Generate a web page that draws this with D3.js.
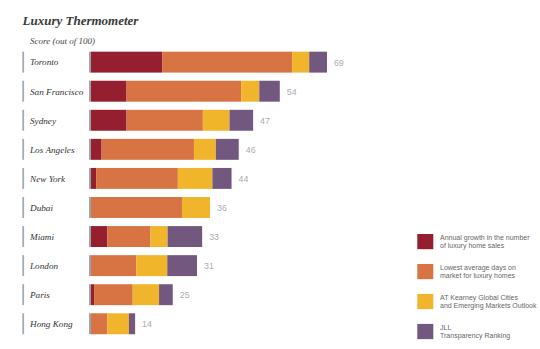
<!DOCTYPE html>
<html><head><meta charset="utf-8">
<script src="https://cdn.jsdelivr.net/npm/d3@7"></script>
<style>body{margin:0;background:#fff}svg{display:block}</style>
</head><body>
<script>
const cities = ["Toronto","San Francisco","Sydney","Los Angeles","New York","Dubai","Miami","London","Paris","Hong Kong"];
const totals = [69,54,47,46,44,36,33,31,25,14];
const salesGrowth = [20.8,10.4,10.4,3.1,1.5,0,4.8,0,0.9,0];
const daysOnMarket = [38.0,33.5,22.3,27.0,23.9,26.6,12.6,13.2,11.3,4.8];
const kearney = [5.0,5.3,7.8,6.4,10.1,8.2,5.0,9.1,7.7,6.3];
const jll = [5.2,6.0,6.9,6.7,5.6,0,10.1,8.7,4.0,1.8];
const seriesNames = [
  ["Annual growth in the number","of luxury home sales"],
  ["Lowest average days on","market for luxury homes"],
  ["AT Kearney Global Cities","and Emerging Markets Outlook"],
  ["JLL","Transparency Ranking"]
];
const colors = ["#951f2f","#d87444","#f0b52a","#72577f"];
const title = "Luxury Thermometer";
const subtitle = "Score (out of 100)";

const W=540,H=349;
const svg=d3.select("body").append("svg").attr("width",W).attr("height",H);

const x=d3.scaleLinear().domain([0,100]).range([91,91+342]);
const y=d3.scaleBand().domain(cities).range([47.6,338.3]).paddingInner(0.28).paddingOuter(0.14);

svg.append("text").attr("x",22.5).attr("y",24.5).text(title)
  .attr("font-family","Liberation Serif").attr("font-style","italic").attr("font-weight","bold")
  .attr("font-size",13).attr("fill","#3a3a3a");
svg.append("text").attr("x",30).attr("y",43.5).text(subtitle)
  .attr("font-family","Liberation Serif").attr("font-style","italic")
  .attr("font-size",9).attr("fill","#444");

const data=cities.map((c,i)=>({city:c,total:totals[i],vals:[salesGrowth[i],daysOnMarket[i],kearney[i],jll[i]]}));
const stack=d3.stack().keys([0,1,2,3]).value((d,k)=>d.vals[k]);
const series=stack(data);

const rows=svg.append("g");
rows.selectAll("rect.mark").data(data).join("rect").attr("class","mark")
  .attr("x",22.3).attr("width",1.8).attr("y",d=>y(d.city)).attr("height",y.bandwidth()).attr("fill","#a4abb2");
rows.selectAll("text.city").data(data).join("text").attr("class","city")
  .attr("x",30).attr("y",d=>y(d.city)+y.bandwidth()/2+3.3).text(d=>d.city)
  .attr("font-family","Liberation Serif").attr("font-style","italic").attr("font-size",9.2).attr("fill","#333");
rows.selectAll("rect.cap").data(data).join("rect").attr("class","cap")
  .attr("x",x(0)-2).attr("width",2).attr("y",d=>y(d.city)).attr("height",y.bandwidth()).attr("fill","#9ea5ad");
svg.append("g").selectAll("g").data(series).join("g").attr("fill",(s,i)=>colors[i])
  .selectAll("rect").data(s=>s.map(p=>({p,city:p.data.city}))).join("rect")
  .attr("x",d=>x(d.p[0])).attr("width",d=>x(d.p[1])-x(d.p[0]))
  .attr("y",d=>y(d.city)).attr("height",y.bandwidth());
const endOf=d=>x(d.vals.reduce((a,b)=>a+b,0));
svg.append("g").selectAll("text").data(data).join("text")
  .attr("x",d=>endOf(d)+7).attr("y",d=>y(d.city)+y.bandwidth()/2+3.5)
  .text(d=>d.total).attr("font-family","Liberation Sans Narrow, Liberation Sans").attr("font-size",8.8).attr("fill","#a9adb3");

const leg=svg.append("g");
const ly=d3.scaleBand().domain([0,1,2,3]).range([234,341]).paddingInner(0.43).paddingOuter(0);
seriesNames.forEach((lines,i)=>{
  leg.append("rect").attr("x",417.3).attr("y",ly(i)).attr("width",16).attr("height",15.2).attr("fill",colors[i]);
  lines.forEach((t,j)=>{
    leg.append("text").attr("x",440).attr("y",ly(i)+6.3+j*7.7).text(t)
      .attr("font-family","Liberation Sans Narrow, Liberation Sans").attr("font-size",7).attr("fill","#666");
  });
});
</script>
</body></html>
